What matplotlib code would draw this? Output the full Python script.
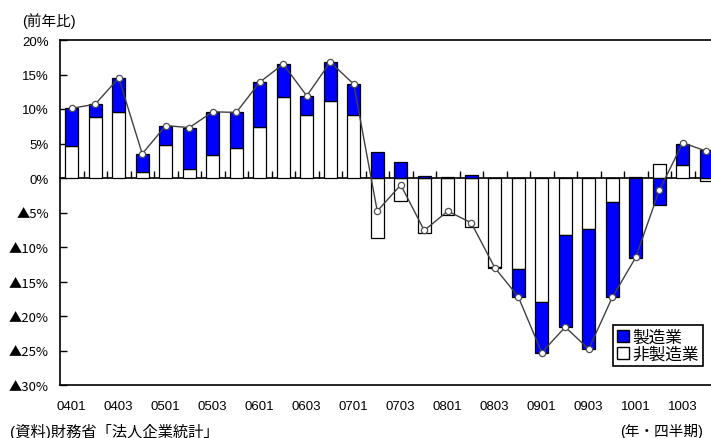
import numpy as np
import matplotlib
matplotlib.use('Agg')
from matplotlib import pyplot as plt
from matplotlib.patches import Patch
from matplotlib.ticker import FuncFormatter

# 四半期 (年・四半期)
quarters = ['0401', '0402', '0403', '0404', '0501', '0502', '0503', '0504',
            '0601', '0602', '0603', '0604', '0701', '0702', '0703', '0704',
            '0801', '0802', '0803', '0804', '0901', '0902', '0903', '0904',
            '1001', '1002', '1003', '1004']
# 寄与度 (%)
non_mfg = [4.6, 8.9, 9.5, 0.8, 4.8, 1.3, 3.4, 4.3, 7.4, 11.8, 9.1, 11.2, 9.2, -8.7,
           -3.3, -8.0, -5.3, -7.1, -12.9, -13.2, -17.9, -8.3, -7.4, -3.5, 0.1, 2.0, 1.9, -0.4]
mfg = [5.5, 1.8, 5.0, 2.7, 2.8, 6.0, 6.2, 5.2, 6.5, 4.7, 2.8, 5.6, 4.4, 3.8,
       2.3, 0.3, 0.2, 0.5, -0.1, -4.0, -7.5, -13.3, -17.4, -13.8, -11.6, -3.9, 3.0, 4.0]
# 全産業 前年比 (%)
total = [10.1, 10.7, 14.5, 3.5, 7.6, 7.3, 9.6, 9.5, 13.9, 16.5, 11.9, 16.8, 13.6, -4.8,
         -1.0, -7.6, -4.8, -6.5, -13.0, -17.2, -25.3, -21.6, -24.8, -17.3, -11.5, -1.8, 5.1, 3.9]

series = [('非製造業', non_mfg, 'white'), ('製造業', mfg, '#0000FF')]
y_min, y_max = -30, 20

jp = ['Liberation Sans', 'Noto Sans CJK JP', 'DejaVu Sans']
plt.rcParams['font.family'] = jp

fig = plt.figure(figsize=(7.11, 4.39), dpi=100)
ax = fig.add_axes([60 / 711, 53 / 439, 658 / 711, 345 / 439])

x = np.arange(len(quarters))
pos_base = np.zeros(len(x))
neg_base = np.zeros(len(x))
for name, vals, color in series:
    v = np.array(vals)
    base = np.where(v >= 0, pos_base, neg_base)
    ax.bar(x, v, 0.55, bottom=base, color=color, edgecolor='black', linewidth=0.9, zorder=2)
    pos_base = pos_base + np.clip(v, 0, None)
    neg_base = neg_base + np.clip(v, None, 0)

ax.plot(x, total, color='#404040', lw=1.0, marker='o', markersize=4.5,
        markerfacecolor='white', markeredgecolor='#505050', markeredgewidth=0.9, zorder=3)

ax.set_xlim(-0.5, len(x) - 0.5)
ax.set_ylim(y_min, y_max)
ax.set_yticks(np.arange(y_min, y_max + 1, 5))


def pct(v, _):
    return f'{v:.0f}%' if v >= 0 else f'▲{-v:.0f}%'


ax.yaxis.set_major_formatter(FuncFormatter(pct))
ax.tick_params(axis='y', direction='in', length=5, width=1, pad=8, labelsize=9.5)
# マイナス表示の▲は和文フォントで
for lbl in ax.get_yticklabels():
    if lbl.get_text().startswith('▲'):
        lbl.set_fontfamily(['Noto Sans CJK JP'])
ax.set_xticks(x, [q if i % 2 == 0 else '' for i, q in enumerate(quarters)])
ax.tick_params(axis='x', length=0, pad=11, labelsize=9.5)
for s in ax.spines.values():
    s.set_linewidth(1.2)

# 0%の線と区切り目盛
zero_axis = ax.secondary_xaxis(-y_min / (y_max - y_min))
zero_axis.set_xticks(x[:-1] + 0.5)
zero_axis.tick_params(axis='x', direction='out', length=5, width=1,
                      labeltop=False, labelbottom=False)
zero_axis.spines['top'].set_linewidth(1.2)

handles = [Patch(facecolor='#0000FF', edgecolor='black', label='製造業'),
           Patch(facecolor='white', edgecolor='black', label='非製造業')]
leg = ax.legend(handles=handles, loc='upper left', bbox_to_anchor=(613 / 711, 1 - 326 / 439),
                bbox_transform=fig.transFigure, fancybox=False, framealpha=1,
                edgecolor='black', fontsize=12, handlelength=0.7, handleheight=0.7,
                handletextpad=0.2, borderpad=0.25, labelspacing=0.1, borderaxespad=0)
leg.get_frame().set_linewidth(1.2)

fig.text(22 / 711, 1 - 21 / 439, '(前年比)', fontsize=10.5, va='center', ha='left')
fig.text(10 / 711, 1 - 432 / 439, '(資料)財務省「法人企業統計」', fontsize=11, va='center', ha='left')
fig.text(703 / 711, 1 - 432 / 439, '(年・四半期)', fontsize=10.5, va='center', ha='right')

fig.savefig('out.png', dpi=100)
